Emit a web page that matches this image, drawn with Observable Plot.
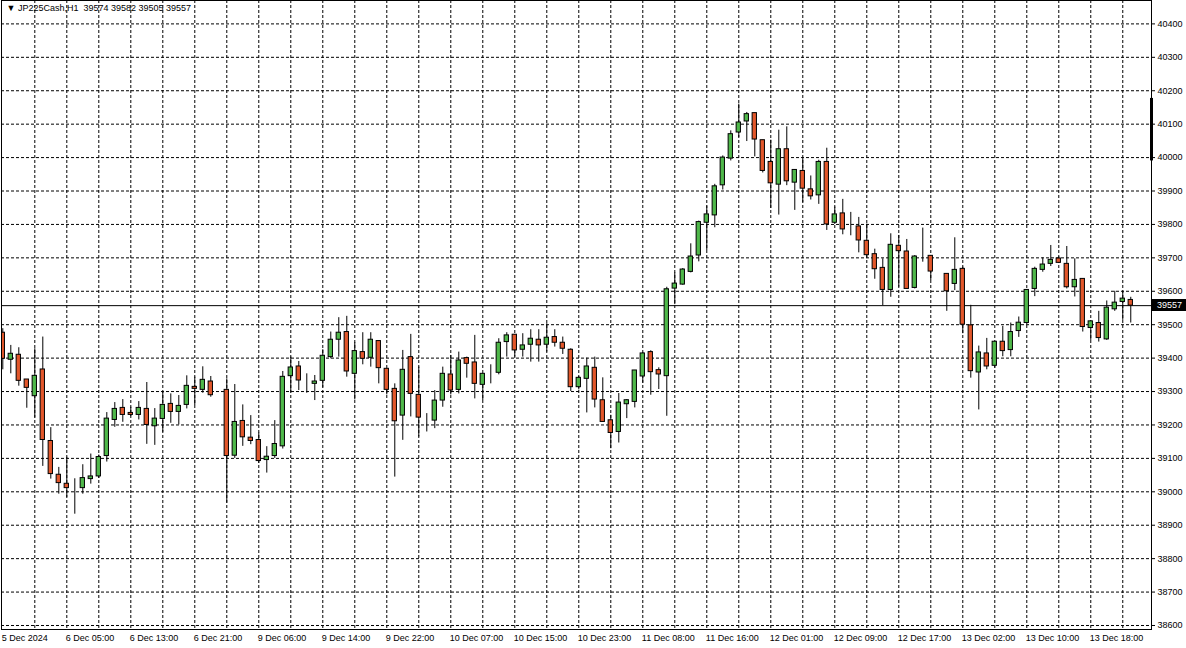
<!DOCTYPE html>
<html><head><meta charset="utf-8">
<script src="https://cdn.jsdelivr.net/npm/d3@7"></script>
<script src="https://cdn.jsdelivr.net/npm/@observablehq/plot@0.6"></script>
<style>
html,body{margin:0;padding:0;background:#fff;overflow:hidden}
#chart{position:relative;width:1186px;height:648px}
</style></head><body><div id="chart"></div>
<script>
// ---------- data ----------
const symbolTitle = "JP225Cash,H1";
const lastQuote = [39574, 39582, 39505, 39557]; // O H L C of the last bar
const lastPrice = 39557;

// hourly bars, index 0 = 5 Dec 20:00 ; null = empty slot
const opens = [39476,39395,39410,39336,39286,39366,39152,39051,39024,39010,39011,39038,39046,39107,39215,39251,39236,39230,39248,39196,39218,39263,39239,39260,39314,39305,39330,null,39305,39108,39212,39162,39155,39095,39107,39136,39346,39375,39328,39323,39332,39403,39455,39478,39353,39418,39401,39451,39368,39308,39228,39403,39290,39218,39213,39273,39351,39305,39400,39387,39320,39352,39356,39448,39470,39425,39440,39455,39440,39463,39446,39425,39313,39338,39371,39274,39214,39179,39262,39269,39345,39418,39364,39346,39608,39620,39658,39707,39805,39827,39917,39997,40075,40108,40133,40052,39987,39919,40025,39925,39960,39905,39887,39987,39805,39833,39790,39794,39751,39711,39670,39604,39736,39719,39610,39704,39706,null,39652,39622,39667,39498,39357,39414,39377,39449,39424,39481,39505,39607,39664,39682,39698,39682,39612,39637,39490,39505,39456,39546,39568,39574];
const highs = [39488,39438,39431,39336,39428,39463,39192,39073,39103,39039,39081,39113,39110,39237,39267,39276,39253,39270,39327,39249,39298,39293,39288,39347,39343,39374,39345,null,39338,39321,39260,39228,39176,39135,39213,39360,39403,39390,39353,39348,39425,39478,39521,39525,39446,39476,39476,39451,39368,39323,39423,39471,39373,39234,39303,39373,39408,39418,39403,39468,39353,39380,39458,39476,39470,39473,39485,39485,39503,39485,39463,39428,39345,39400,39403,39341,39229,39294,39276,39363,39416,39422,39371,39612,39655,39668,39742,39810,39855,39920,40005,40080,40160,40135,40133,40052,40052,40082,40092,39964,40000,39945,39992,40028,39852,39875,39836,39821,39801,39726,39697,39772,39767,39755,39707,39789,39706,null,39652,39760,39672,39558,39436,39459,39449,39495,39505,39523,39605,39672,39700,39737,39703,39734,39697,39637,39510,39540,39571,39600,39600,39582];
const lows = [39365,39353,39316,39250,39221,39076,39038,38993,38983,38933,38993,39023,39040,39089,39193,39208,39225,39215,39142,39139,39178,39205,39200,39248,39258,39295,39283,null,38966,39100,39136,39141,39085,39056,39100,39128,39296,39303,39295,39273,39311,39398,39403,39343,39275,39380,39373,39323,39290,39044,39154,39224,39164,39179,39189,39253,39290,39293,39340,39278,39273,39323,39350,39403,39403,39403,39388,39388,39418,39433,39411,39300,39305,39236,39251,39209,39129,39146,39219,39251,39325,39289,39306,39226,39560,39618,39655,39688,39722,39790,39903,39990,40060,40048,40002,39954,39848,39828,39916,39842,39865,39873,39860,39782,39800,39769,39766,39715,39700,39636,39557,39582,39612,39607,39607,39687,39632,null,39540,39602,39473,39340,39245,39365,39370,39404,39404,39462,39500,39584,39657,39674,39683,39607,39583,39478,39453,39448,39453,39540,39513,39505];
const closes = [39398,39413,39332,39311,39347,39155,39053,39026,39011,39010,39041,39046,39104,39219,39248,39230,39230,39251,39200,39219,39260,39239,39257,39317,39308,39335,39289,null,39107,39209,39163,39152,39092,39105,39143,39344,39372,39333,39328,39330,39407,39455,39476,39360,39421,39398,39455,39370,39305,39211,39365,39293,39222,39218,39273,39353,39303,39393,39383,39323,39353,39352,39446,39468,39423,39438,39458,39438,39461,39446,39428,39313,39341,39375,39276,39209,39176,39267,39274,39363,39414,39358,39351,39606,39623,39665,39704,39807,39830,39914,40000,40070,40105,40130,40054,39960,39923,40025,39929,39963,39907,39884,39987,39800,39830,39785,39790,39752,39708,39666,39604,39739,39720,39607,39704,39704,39659,null,39600,39664,39500,39361,39417,39375,39449,39421,39478,39506,39604,39667,39680,39694,39685,39612,39634,39493,39510,39460,39551,39566,39578,39557];

// time-axis labels (one every 8 bars, starting at bar 0)
const timeLabels = ["5 Dec 2024","6 Dec 05:00","6 Dec 13:00","6 Dec 21:00","9 Dec 06:00","9 Dec 14:00","9 Dec 22:00","10 Dec 07:00","10 Dec 15:00","10 Dec 23:00","11 Dec 08:00","11 Dec 16:00","12 Dec 01:00","12 Dec 09:00","12 Dec 17:00","13 Dec 02:00","13 Dec 10:00","13 Dec 18:00"];
const barsPerLabel = 8;
const barsPerGrid = 4;
const priceTicks = [38600,38700,38800,38900,39000,39100,39200,39300,39400,39500,39600,39700,39800,39900,40000,40100,40200,40300,40400];
const scrollMarker = [39990, 40177];

// ---------- build ----------
const bars = opens.map((o, i) => ({i, o, h: highs[i], l: lows[i], c: closes[i]})).filter(d => d.o != null);
const labelBars = timeLabels.map((t, k) => k * barsPerLabel);
const labelOf = new Map(timeLabels.map((t, k) => [k * barsPerLabel, t]));
const gridBars = d3.range(barsPerGrid, 144, barsPerGrid);
const xDomain = [-0.1625, 143.59];
const bull = "#4fb84a", bear = "#e2572b";
const dash = "3,2";
const font = "Liberation Sans, Arial, sans-serif";

const chart = Plot.plot({
  width: 1186, height: 648,
  marginLeft: 1, marginRight: 35, marginTop: 0, marginBottom: 19,
  style: {fontFamily: font, fontSize: "9px", background: "#fff", color: "#000"},
  x: {type: "linear", domain: xDomain, axis: null, label: null},
  y: {type: "linear", domain: [38588, 40470], axis: null, label: null},
  marks: [
    Plot.ruleY(priceTicks, {stroke: "#000", strokeDasharray: dash, strokeWidth: 1}),
    Plot.ruleX(gridBars, {stroke: "#000", strokeDasharray: dash, strokeWidth: 1}),
    Plot.ruleY([lastPrice], {stroke: "#000", strokeWidth: 1}),
    Plot.ruleX(bars, {x: "i", y1: "l", y2: "h", stroke: "#000", strokeWidth: 1, clip: true}),
    Plot.rect(bars, {x1: d => d.i - 0.27, x2: d => d.i + 0.27, y1: "o", y2: "c",
      fill: d => d.c >= d.o ? bull : bear, stroke: "#000", strokeWidth: 1, clip: true}),
    Plot.frame({stroke: "#000"}),
    Plot.ruleX([xDomain[1]], {y1: scrollMarker[0], y2: scrollMarker[1], stroke: "#000", strokeWidth: 3}),
    Plot.axisY(priceTicks, {anchor: "right", tickSize: 3, tickPadding: 3, tickFormat: d => String(d), fontSize: 9, label: null}),
    Plot.axisX(labelBars, {anchor: "bottom", tickSize: 0, tickPadding: 5, tickFormat: d => labelOf.get(d), textAnchor: "start", dx: -1, fontSize: 9, label: null}),
    Plot.text([`\u25BC ${symbolTitle}\u00A0\u00A0${lastQuote.join(" ")}`], {frameAnchor: "top-left", dx: 5, dy: 4, textAnchor: "start", lineAnchor: "top", fontSize: 9, fill: "#000"})
  ]
});

// current price tag in the right margin
const yScale = chart.scale("y");
const xScale = chart.scale("x");
const yp = yScale.apply(lastPrice);
const xr = xScale.apply(xDomain[1]);
const svg = d3.select(chart);
svg.append("rect").attr("x", xr + 1).attr("y", Math.round(yp) - 6).attr("width", 34).attr("height", 12).attr("fill", "#000");
svg.append("text").attr("x", xr + 6).attr("y", Math.round(yp)).attr("dy", "0.35em")
  .attr("text-anchor", "start")
  .attr("fill", "#fff").attr("font-size", 9).attr("font-family", font).text(String(lastPrice));

document.getElementById("chart").appendChild(chart);
</script></body></html>
